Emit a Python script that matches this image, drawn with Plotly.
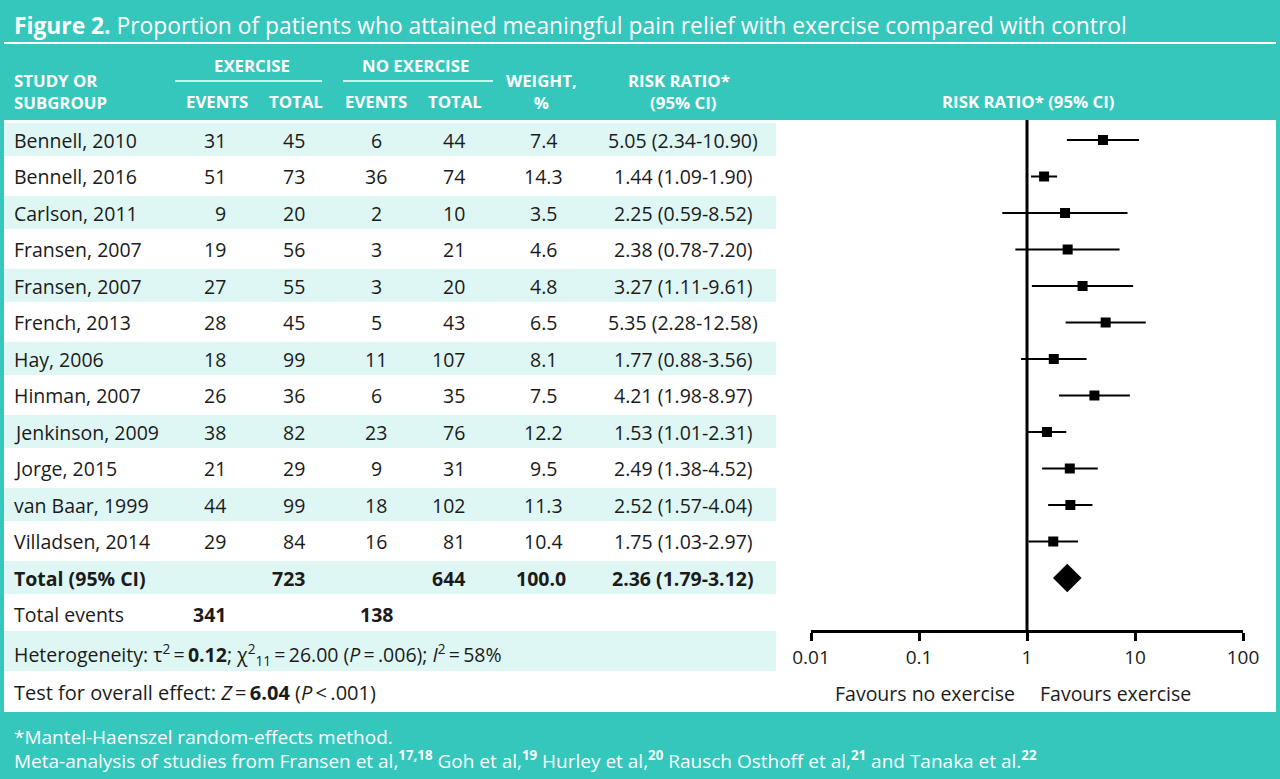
import plotly.graph_objects as go

# ---------------- data ----------------
studies = ["Bennell, 2010", "Bennell, 2016", "Carlson, 2011", "Fransen, 2007", "Fransen, 2007",
           "French, 2013", "Hay, 2006", "Hinman, 2007", "Jenkinson, 2009", "Jorge, 2015",
           "van Baar, 1999", "Villadsen, 2014"]
ex_events = [31, 51, 9, 19, 27, 28, 18, 26, 38, 21, 44, 29]
ex_total = [45, 73, 20, 56, 55, 45, 99, 36, 82, 29, 99, 84]
ctrl_events = [6, 36, 2, 3, 3, 5, 11, 6, 23, 9, 18, 16]
ctrl_total = [44, 74, 10, 21, 20, 43, 107, 35, 76, 31, 102, 81]
weights = [7.4, 14.3, 3.5, 4.6, 4.8, 6.5, 8.1, 7.5, 12.2, 9.5, 11.3, 10.4]
rr = [5.05, 1.44, 2.25, 2.38, 3.27, 5.35, 1.77, 4.21, 1.53, 2.49, 2.52, 1.75]
ci_low = [2.34, 1.09, 0.59, 0.78, 1.11, 2.28, 0.88, 1.98, 1.01, 1.38, 1.57, 1.03]
ci_high = [10.90, 1.90, 8.52, 7.20, 9.61, 12.58, 3.56, 8.97, 2.31, 4.52, 4.04, 2.97]

total_label = "Total (95% CI)"
total_ex_total = 723
total_ctrl_total = 644
total_weight = 100.0
total_rr = 2.36
total_ci_low = 1.79
total_ci_high = 3.12
total_ex_events = 341
total_ctrl_events = 138

tick_vals = [0.01, 0.1, 1, 10, 100]
tick_text = ["0.01", "0.1", "1", "10", "100"]

# ---------------- style ----------------
W, H = 1280, 779
TEAL = "#35c7bc"
STRIPE = "#dff7f4"
TXT = "#1b1b1b"
FONT = "Open Sans"
BODY = 19.5
ROW0, PITCH = 140.0, 36.5
PLOT_TOP, AXIS_Y = 120.0, 630.0


def px(x):
    return x / W


def py(y):
    return 1 - y / H


def row_y(i):
    return ROW0 + PITCH * i


fig = go.Figure()

shapes = []
annotations = []

# white panel
shapes.append(dict(type="rect", xref="paper", yref="paper", x0=px(4), x1=px(1276), y0=py(712), y1=py(120),
                   fillcolor="white", line=dict(width=0), layer="below"))
# stripes
n_rows = len(studies) + 1
for i in range(0, n_rows, 2):
    yc = row_y(i)
    top = max(PLOT_TOP, yc - 17)
    shapes.append(dict(type="rect", xref="paper", yref="paper", x0=px(4), x1=px(776),
                       y0=py(yc + 16), y1=py(top), fillcolor=STRIPE, line=dict(width=0), layer="below"))
shapes.append(dict(type="rect", xref="paper", yref="paper", x0=px(4), x1=px(776),
                   y0=py(671), y1=py(631), fillcolor=STRIPE, line=dict(width=0), layer="below"))
# title rule
shapes.append(dict(type="line", xref="paper", yref="paper", x0=px(4), x1=px(1276), y0=py(43), y1=py(43),
                   line=dict(color="white", width=2)))
# header group rules
for x0, x1 in [(175, 322), (343, 493)]:
    shapes.append(dict(type="line", xref="paper", yref="paper", x0=px(x0), x1=px(x1), y0=py(81), y1=py(81),
                       line=dict(color="white", width=1.5)))


def ann(x, y, text, anchor="left", size=BODY, color=TXT, bold=False, align=None):
    if bold:
        text = "<b>" + text + "</b>"
    annotations.append(dict(x=px(x), y=py(y), xref="paper", yref="paper", text=text, showarrow=False,
                            xanchor=anchor, yanchor="middle", align=align or anchor,
                            font=dict(size=size, color=color, family=FONT)))


# title
ann(12, 25, "<b>Figure 2.</b> Proportion of patients who attained meaningful pain relief with exercise compared with control",
    size=22.8, color="white")

# header
HS = 16.8
ann(12, 91.5, "STUDY OR<br>SUBGROUP", size=HS, color="white", bold=True)
ann(252, 65, "EXERCISE", "center", HS, "white", True)
ann(415, 65, "NO EXERCISE", "center", HS, "white", True)
ann(217, 102, "EVENTS", "center", HS, "white", True)
ann(296, 102, "TOTAL", "center", HS, "white", True)
ann(376, 102, "EVENTS", "center", HS, "white", True)
ann(455, 102, "TOTAL", "center", HS, "white", True)
ann(541, 91.5, "WEIGHT,<br>%", "center", HS, "white", True)
ann(679, 91.5, "RISK RATIO*<br>\u00a0\u00a0(95% CI)", "center", HS, "white", True)
ann(1028, 102, "RISK RATIO* (95% CI)", "center", HS, "white", True)

# body rows
for i, name in enumerate(studies):
    y = row_y(i)
    ann(12, y, name)
    ann(228, y, str(ex_events[i]), "right")
    ann(307, y, str(ex_total[i]), "right")
    ann(376, y, str(ctrl_events[i]), "center")
    ann(467, y, str(ctrl_total[i]), "right")
    ann(543, y, f"{weights[i]:.1f}", "center")
    ann(683, y, f"{rr[i]:.2f} ({ci_low[i]:.2f}-{ci_high[i]:.2f})", "center")

yt = row_y(len(studies))
ann(12, yt, total_label, bold=True)
ann(307, yt, str(total_ex_total), "right", bold=True)
ann(467, yt, str(total_ctrl_total), "right", bold=True)
ann(541, yt, f"{total_weight:.1f}", "center", bold=True)
ann(683, yt, f"{total_rr:.2f} ({total_ci_low:.2f}-{total_ci_high:.2f})", "center", bold=True)

ye = row_y(len(studies) + 1)
ann(12, ye, "Total events")
ann(228, ye, str(total_ex_events), "right", bold=True)
ann(376, ye, str(total_ctrl_events), "center", bold=True)

ts = "\u2009"
ann(12, 654, f"Heterogeneity: τ<sup>2</sup>{ts}={ts}<b>0.12</b>; χ<sup>2</sup><sub>11</sub>{ts}={ts}26.00 "
             f"(<i>P</i>{ts}={ts}.006); <i>I</i><sup>2</sup>{ts}={ts}58%")
ann(12, 692, f"Test for overall effect: <i>Z</i>{ts}={ts}<b>6.04</b> (<i>P</i>{ts}&lt;{ts}.001)", size=20)

# forest axis captions
ann(925, 693, "Favours no exercise", "center")
ann(1115, 693, "Favours exercise", "center")

# footer
FS = 19
ann(12, 737, "*Mantel-Haenszel random-effects method.", color="white", size=FS)
ann(12, 760, "Meta-analysis of studies from Fransen et al,<sup><b>17,18</b></sup> Goh et al,<sup><b>19</b></sup> "
             "Hurley et al,<sup><b>20</b></sup> Rausch Osthoff et al,<sup><b>21</b></sup> and Tanaka et al.<sup><b>22</b></sup>",
    color="white", size=FS)

# ---------------- forest plot ----------------
rows = list(range(len(studies)))
ci_x, ci_y = [], []
for i in rows:
    ci_x += [ci_low[i], ci_high[i], None]
    ci_y += [i, i, None]

fig.add_trace(go.Scatter(x=ci_x, y=ci_y, mode="lines", line=dict(color="black", width=2),
                         hoverinfo="skip", showlegend=False))
fig.add_trace(go.Scatter(x=rr, y=rows, mode="markers",
                         marker=dict(symbol="square", size=10, color="black"), showlegend=False))
fig.add_trace(go.Scatter(x=[total_rr], y=[len(studies)], mode="markers",
                         marker=dict(symbol="diamond", size=22, color="black"), showlegend=False))

# reference line at RR = 1
shapes.append(dict(type="line", xref="x", yref="y domain", x0=1, x1=1, y0=0, y1=1,
                   line=dict(color="black", width=3)))

# y axis maps row index to pixel rows
y_top_val = (PLOT_TOP - ROW0) / PITCH
y_bot_val = (AXIS_Y - ROW0) / PITCH

fig.update_layout(
    width=W, height=H,
    margin=dict(l=0, r=0, t=0, b=0, pad=0, autoexpand=False),
    paper_bgcolor=TEAL, plot_bgcolor="rgba(0,0,0,0)",
    xaxis=dict(type="log", range=[-2, 2], domain=[px(811), px(1243)], automargin=False,
               tickvals=tick_vals, ticktext=tick_text, ticks="outside", ticklen=8, tickwidth=3,
               tickcolor="black", showline=True, linecolor="black", linewidth=3,
               showgrid=False, zeroline=False, tickfont=dict(size=19, color=TXT, family=FONT)),
    yaxis=dict(range=[y_bot_val, y_top_val], domain=[py(AXIS_Y), py(PLOT_TOP)], automargin=False,
               visible=False, showgrid=False, zeroline=False),
    shapes=shapes, annotations=annotations,
)

fig.write_html("out.html", config={"displayModeBar": False},
               post_script="document.body.style.margin='0';document.body.style.overflow='hidden';")
